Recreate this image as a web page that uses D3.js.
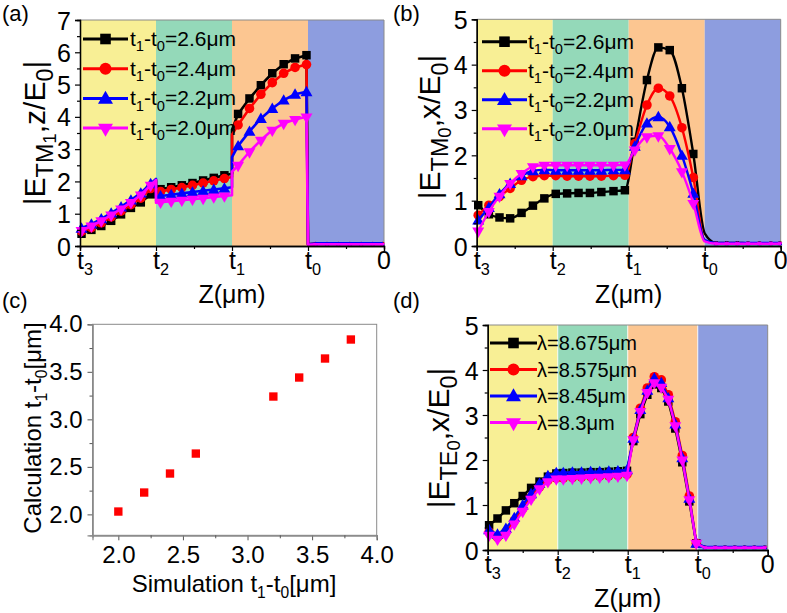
<!DOCTYPE html>
<html><head><meta charset="utf-8">
<script src="https://cdn.jsdelivr.net/npm/d3@7"></script>
<style>body{margin:0;background:#fff}text{font-family:"Liberation Sans",Arial,sans-serif;fill:#000}</style>
</head><body>
<svg id="chart" width="787" height="613"></svg>
<script>
// ---------- shared ----------
const regionEdges = [0, 1, 2, 3, 4];
const regionColors = ["#f8ef95", "#94d9b9", "#fcc691", "#8d9ddf"];
const zTickNames = ["t3", "t2", "t1", "t0", "0"];
const seriesColors = ["#000000", "#ff0000", "#0000ff", "#ff00ff"];
const seriesShapes = ["square", "circle", "up", "down"];

// ---------- panel (a) |E_TM1,z/E0| ----------
const zA = [0.02,0.15,0.28,0.41,0.54,0.67,0.80,0.93, 1,1, 1.06,1.20,1.34,1.48,1.62,1.76,1.90, 2,2, 2.08,2.23,2.38,2.53,2.68,2.83,2.98, 3, 3.10,3.25,3.40,3.55,3.70,3.85,3.98];
const aBlack = [0.38,0.50,0.62,0.78,0.98,1.18,1.35,1.60, 2.02,1.72, 1.76,1.82,1.88,1.95,2.03,2.11,2.19, 2.24,3.60, 4.09,4.57,4.98,5.35,5.63,5.81,5.91, 0.05, 0.07,0.07,0.07,0.07,0.07,0.07,0.07];
const aRed   = [0.45,0.57,0.72,0.90,1.08,1.28,1.48,1.78, 2.05,1.66, 1.69,1.75,1.81,1.88,1.95,2.02,2.09, 2.14,3.45, 3.75,4.26,4.70,5.06,5.35,5.53,5.62, 0.05, 0.07,0.07,0.07,0.07,0.07,0.07,0.07];
const aBlue  = [0.55,0.68,0.84,1.02,1.21,1.42,1.64,1.93, 2.08,1.52, 1.55,1.59,1.63,1.67,1.71,1.75,1.79, 1.82,2.75, 3.10,3.55,3.95,4.26,4.52,4.70,4.78, 0.05, 0.08,0.08,0.08,0.08,0.08,0.08,0.08];
const aPink  = [0.48,0.62,0.78,0.96,1.15,1.35,1.58,1.88, 2.05,1.34, 1.36,1.39,1.42,1.45,1.48,1.52,1.55, 1.57,2.30, 2.50,2.92,3.28,3.59,3.80,3.92,4.00, 0.04, 0.05,0.05,0.05,0.05,0.05,0.05,0.05];
const aTicksY = [0,1,2,3,4,5,6,7];
const thicknessLabels = ["2.6", "2.4", "2.2", "2.0"];

// ---------- panel (b) |E_TM0,x/E0| ----------
const zB = [0.02,0.16,0.30,0.44,0.59,0.74,0.89, 1.04,1.19,1.34,1.49,1.64,1.80,1.95, 2.08,2.24,2.39,2.54,2.70,2.85,3.00, 3.15,3.29,3.43,3.57,3.72,3.87,3.99];
const bBlack = [0.90,0.70,0.63,0.61,0.73,0.89,1.05, 1.15,1.16,1.17,1.17,1.19,1.21,1.23, 2.30,3.66,4.38,4.32,3.48,2.03,0.28, 0.07,0.07,0.07,0.06,0.06,0.06,0.06];
const bRed   = [0.68,0.90,1.09,1.27,1.45,1.53,1.55, 1.55,1.54,1.54,1.54,1.54,1.55,1.56, 2.26,3.11,3.48,3.31,2.61,1.51,0.12, 0.06,0.06,0.06,0.06,0.06,0.06,0.06];
const bBlue  = [0.57,0.85,1.15,1.38,1.55,1.66,1.68, 1.67,1.67,1.67,1.67,1.67,1.68,1.68, 2.20,2.71,2.85,2.63,2.00,1.16,0.13, 0.07,0.07,0.07,0.07,0.07,0.07,0.07];
const bPink  = [0.33,0.76,1.10,1.38,1.60,1.75,1.78, 1.78,1.78,1.78,1.78,1.78,1.78,1.79, 2.12,2.41,2.43,2.15,1.64,0.94,0.10, 0.05,0.05,0.05,0.05,0.05,0.05,0.05];
const bTicksY = [0,1,2,3,4,5];

// ---------- panel (c) calculation vs simulation ----------
const simT  = [2.0, 2.2, 2.4, 2.6, 3.2, 3.4, 3.6, 3.8];
const calcT = [2.03, 2.23, 2.43, 2.64, 3.24, 3.44, 3.64, 3.84];
const cTicks = [2.0, 2.5, 3.0, 3.5, 4.0];
const cMinor = [2.25, 2.75, 3.25, 3.75];

// ---------- panel (d) |E_TE0,x/E0| ----------
const zD = [0.02,0.14,0.26,0.38,0.50,0.62,0.74,0.86,0.98, 1.08,1.21,1.34,1.47,1.60,1.73,1.86,1.99, 2.08,2.18,2.28,2.38,2.48,2.58,2.68,2.78,2.88,2.98, 3.10,3.25,3.39,3.53,3.67,3.81,3.96];
const dBlack = [0.55,0.70,0.88,1.04,1.20,1.38,1.52,1.63,1.70, 1.71,1.72,1.72,1.73,1.73,1.74,1.75,1.76, 2.42,3.02,3.45,3.68,3.60,3.30,2.70,1.95,1.08,0.15, 0.06,0.06,0.06,0.06,0.06,0.06,0.06];
const dRed   = [0.40,0.28,0.40,0.65,0.92,1.18,1.40,1.55,1.60, 1.60,1.61,1.62,1.63,1.64,1.65,1.66,1.68, 2.50,3.15,3.60,3.85,3.78,3.45,2.85,2.10,1.20,0.15, 0.06,0.06,0.06,0.06,0.06,0.06,0.06];
const dBlue  = [0.45,0.35,0.48,0.72,1.00,1.25,1.48,1.65,1.72, 1.72,1.73,1.73,1.74,1.74,1.75,1.76,1.78, 2.48,3.12,3.55,3.82,3.72,3.38,2.80,2.05,1.15,0.15, 0.07,0.07,0.07,0.07,0.07,0.07,0.07];
const dPink  = [0.33,0.24,0.33,0.58,0.86,1.13,1.36,1.52,1.58, 1.58,1.59,1.60,1.61,1.62,1.63,1.64,1.66, 2.45,3.08,3.50,3.72,3.62,3.35,2.76,2.00,1.12,0.15, 0.05,0.05,0.05,0.05,0.05,0.05,0.05];
const lambdaLabels = ["8.675", "8.575", "8.45", "8.3"];

// ---------- drawing ----------
const svg = d3.select("#chart");

function richText(parent, parts, size, attrs, scales) {
  // parts: [text, level]; level 0 normal, 1 subscript, 2 sub-subscript
  const t = parent.append("text").attr("font-size", size);
  Object.entries(attrs || {}).forEach(([k, v]) => t.attr(k, v));
  const shift = [0, 0.25, 0.38];
  const scale = scales || [1, 0.7, 0.55];
  let cur = 0;
  parts.forEach(([s, l]) => {
    const off = shift[l] * size;
    t.append("tspan").attr("font-size", size * scale[l]).attr("dy", off - cur).text(s);
    cur = off;
  });
  return t;
}

function marker(g, shape, cx, cy, color, f) {
  const types = {square: d3.symbolSquare, circle: d3.symbolCircle, up: d3.symbolTriangle, down: d3.symbolTriangle};
  const sizes = {square: 72, circle: 72, up: 62, down: 62};
  g.append("path")
    .attr("d", d3.symbol().type(types[shape]).size(sizes[shape] * f * f)())
    .attr("transform", `translate(${cx},${cy})` + (shape === "down" ? " rotate(180)" : "") + (shape === "up" ? " translate(0,1)" : ""))
    .attr("fill", color);
}

function fieldPanel(o) {
  const g = svg.append("g");
  const x = d3.scaleLinear().domain([0, 4]).range([o.l, o.r]);
  const y = d3.scaleLinear().domain([0, o.ymax]).range([o.b, o.t]);
  g.selectAll("rect.reg").data(regionColors).join("rect")
    .attr("x", (d, i) => x(regionEdges[i]))
    .attr("width", (d, i) => x(regionEdges[i + 1]) - x(regionEdges[i]))
    .attr("y", o.t).attr("height", o.b - o.t).attr("fill", d => d);
  if (o.whiteEdges) {
    g.selectAll("line.edge").data([1, 2, 3]).join("line")
      .attr("x1", d => x(d)).attr("x2", d => x(d)).attr("y1", o.t).attr("y2", o.b)
      .attr("stroke", "#ffffff").attr("stroke-opacity", 0.7).attr("stroke-width", 1.2);
  }
  g.append("path").attr("d", `M${o.l},${o.t}H${o.r}V${o.b}`).attr("fill", "none").attr("stroke", "#8a8a8a").attr("stroke-width", 1);
  o.series.forEach((vals, k) => {
    const pts = o.z.map((z, i) => [z, vals[i]]);
    const line = d3.line().x(d => x(d[0])).y(d => y(d[1])).curve(o.curve);
    g.append("path").attr("d", line(pts)).attr("fill", "none")
      .attr("stroke", seriesColors[k]).attr("stroke-width", o.lw).attr("stroke-linejoin", "round");
    pts.filter(d => !regionEdges.includes(d[0])).forEach(d => {
      marker(g, seriesShapes[k], x(d[0]), y(d[1]), seriesColors[k], d[0] > 3.05 ? 0.4 : 1);
    });
  });
  const yAx = g.append("g").attr("transform", `translate(${o.l},0)`)
    .call(d3.axisLeft(y).tickValues(o.yTicks).tickSize(5).tickPadding(4).tickFormat(d3.format("d")));
  g.append("g").attr("transform", `translate(${o.l},0)`)
    .call(d3.axisLeft(y).tickValues(o.yTicks.slice(0, -1).map(v => v + 0.5)).tickSize(3).tickFormat(""));
  g.append("g").attr("transform", `translate(0,${o.b})`)
    .call(d3.axisBottom(x).tickValues(regionEdges).tickSize(5).tickFormat(""));
  g.append("g").attr("transform", `translate(0,${o.b})`)
    .call(d3.axisBottom(x).tickValues([0.5, 1.5, 2.5, 3.5]).tickSize(3).tickFormat(""));
  g.selectAll(".domain").attr("stroke", "#000").attr("stroke-width", 1.3);
  g.selectAll(".tick line").attr("stroke", "#000").attr("stroke-width", 1.2);
  yAx.selectAll("text").attr("font-size", 25).attr("font-family", "Liberation Sans, Arial, sans-serif").attr("fill", "#000").attr("dy", "0.36em");
  regionEdges.forEach((v, i) => {
    const nm = zTickNames[i];
    const parts = nm.length > 1 ? [[nm[0], 0], [nm.slice(1), 1]] : [[nm, 0]];
    const t = richText(g, parts, 25, {x: x(v), y: o.b + 23, "text-anchor": "middle"}, [1, 0.65, 0.5]);
    if (nm.length > 1) t.attr("dx", 5);
  });
  richText(g, [["Z(μm)", 0]], 25, {x: (o.l + o.r) / 2, y: o.b + 57, "text-anchor": "middle"});
  richText(g, o.title, 30, {transform: `translate(${o.tx},${o.ty}) rotate(-90)`, "text-anchor": "middle"}, [1, 0.78, 0.62]);
  o.legend.forEach((lab, k) => {
    const yy = o.lg.y + k * o.lg.dy;
    g.append("line").attr("x1", o.lg.x0).attr("x2", o.lg.x1).attr("y1", yy).attr("y2", yy)
      .attr("stroke", seriesColors[k]).attr("stroke-width", 3);
    marker(g, seriesShapes[k], (o.lg.x0 + o.lg.x1) / 2, yy, seriesColors[k], 1.25);
    richText(g, lab, o.lg.fs, {x: o.lg.tx, y: yy + 7});
  });
  g.append("text").attr("x", o.px).attr("y", o.py).attr("font-size", 22)
    .attr("font-family", "Liberation Serif, Times New Roman, serif").text(o.plabel);
}

const thickLegend = thicknessLabels.map(v => [["t", 0], ["1", 1], ["-t", 0], ["0", 1], ["=" + v + "μm", 0]]);
const lambdaLegend = lambdaLabels.map(v => [["λ=" + v + "μm", 0]]);

fieldPanel({
  l: 80, r: 384, t: 20, b: 246, ymax: 7, yTicks: aTicksY, z: zA,
  series: [aBlack, aRed, aBlue, aPink], curve: d3.curveLinear, lw: 2.6,
  title: [["|E", 0], ["TM", 1], ["1", 2], [",z", 0], ["/E", 0], ["0", 1], ["|", 0]], tx: 45, ty: 133,
  legend: thickLegend, lg: {x0: 83, x1: 128, tx: 130, y: 39, dy: 29.7, fs: 21},
  plabel: "(a)", px: 2, py: 21
});
fieldPanel({
  l: 476.7, r: 780.7, t: 19.3, b: 246, ymax: 5, yTicks: bTicksY, z: zB,
  series: [bBlack, bRed, bBlue, bPink], curve: d3.curveMonotoneX, lw: 2.4,
  title: [["|E", 0], ["TM", 1], ["0", 2], [",x", 0], ["/E", 0], ["0", 1], ["|", 0]], tx: 440, ty: 127,
  legend: thickLegend, lg: {x0: 482, x1: 527, tx: 528, y: 41.7, dy: 29, fs: 21},
  plabel: "(b)", px: 393, py: 21
});
fieldPanel({
  l: 487.7, r: 767.7, t: 325, b: 550, ymax: 5, yTicks: bTicksY, z: zD,
  series: [dBlack, dRed, dBlue, dPink], curve: d3.curveLinear, lw: 2.4, whiteEdges: true,
  title: [["|E", 0], ["TE", 1], ["0", 2], [",x", 0], ["/E", 0], ["0", 1], ["|", 0]], tx: 449, ty: 438,
  legend: lambdaLegend, lg: {x0: 490, x1: 537, tx: 537, y: 343, dy: 26.5, fs: 20},
  plabel: "(d)", px: 393, py: 308
});

// panel (c)
(function () {
  const g = svg.append("g");
  const L = 92.5, R = 376.7, T = 324.3, B = 535.3;
  const x = d3.scaleLinear().domain([1.8, 4.0]).range([L, R]);
  const y = d3.scaleLinear().domain([1.78, 4.0]).range([B, T]);
  g.append("rect").attr("x", L).attr("y", T).attr("width", R - L).attr("height", B - T)
    .attr("fill", "none").attr("stroke", "#8a8a8a").attr("stroke-width", 1);
  const fmt = d3.format(".1f");
  g.append("g").attr("transform", `translate(0,${B})`).call(d3.axisBottom(x).tickValues(cTicks).tickSize(5).tickPadding(6).tickFormat(fmt));
  g.append("g").attr("transform", `translate(0,${B})`).call(d3.axisBottom(x).tickValues(cMinor).tickSize(3).tickFormat(""));
  g.append("g").attr("transform", `translate(${L},0)`).call(d3.axisLeft(y).tickValues(cTicks).tickSize(5).tickPadding(5).tickFormat(fmt));
  g.append("g").attr("transform", `translate(${L},0)`).call(d3.axisLeft(y).tickValues(cMinor).tickSize(3).tickFormat(""));
  g.selectAll(".domain").attr("stroke", "#8a8a8a").attr("stroke-width", 1.2);
  g.selectAll(".tick line").attr("stroke", "#555");
  g.selectAll(".tick text").attr("font-size", 24).attr("font-family", "Liberation Sans, Arial, sans-serif").attr("fill", "#000");
  g.selectAll("path.pt").data(simT).join("path")
    .attr("d", d3.symbol().type(d3.symbolSquare).size(70)())
    .attr("transform", (d, i) => `translate(${x(d)},${y(calcT[i])})`)
    .attr("fill", "#ff0000");
  richText(g, [["Simulation t", 0], ["1", 1], ["-t", 0], ["0", 1], ["[μm]", 0]], 24, {x: 234, y: 592, "text-anchor": "middle"}, [1, 0.65, 0.5]);
  richText(g, [["Calculation t", 0], ["1", 1], ["-t", 0], ["0", 1], ["[μm]", 0]], 24, {transform: `translate(41,428) rotate(-90)`, "text-anchor": "middle"}, [1, 0.65, 0.5]);
  g.append("text").attr("x", 2).attr("y", 308).attr("font-size", 22)
    .attr("font-family", "Liberation Serif, Times New Roman, serif").text("(c)");
})();
</script>
</body></html>
